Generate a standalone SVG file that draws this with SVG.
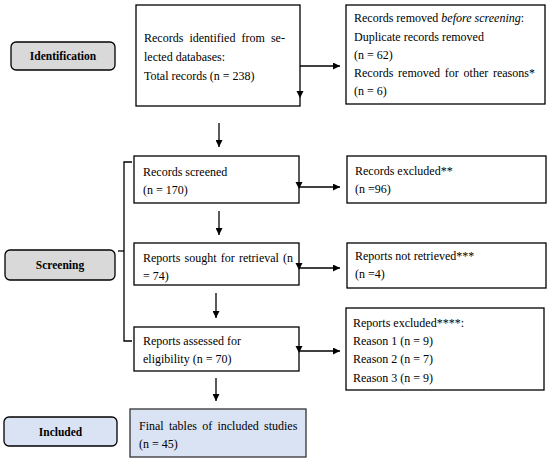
<svg xmlns="http://www.w3.org/2000/svg" width="550" height="462" viewBox="0 0 550 462">
<style>
  .box { fill: #ffffff; stroke: #000000; stroke-width: 1.3; }
  .blue { fill: #dae3f3; stroke: #333333; stroke-width: 1.3; }
  .lbl { stroke: #000000; stroke-width: 1.3; }
  .t { font-family: "Liberation Serif", "Times New Roman", serif; font-size: 12px; fill: #000000; }
  .b { font-family: "Liberation Serif", "Times New Roman", serif; font-size: 11.5px; font-weight: bold; fill: #000000; text-anchor: middle; }
  .ln { stroke: #000000; stroke-width: 1.3; fill: none; }
  .hd { fill: #000000; }
</style>
<defs>
  <marker id="ah" viewBox="0 0 10 10" refX="10" refY="5" markerWidth="7" markerHeight="7" markerUnits="userSpaceOnUse" orient="auto">
    <path d="M0,0 L10,5 L0,10 Z" class="hd"/>
  </marker>
</defs>

<g id="label-identification">
  <rect x="11" y="42" width="104" height="28" rx="5" fill="#d9d9d9" class="lbl"/>
  <text x="63" y="60" class="b">Identification</text>
</g>
<g id="label-screening">
  <rect x="5" y="250" width="110" height="30" rx="5" fill="#d9d9d9" class="lbl"/>
  <text x="60" y="269" class="b">Screening</text>
</g>
<g id="label-included">
  <rect x="4" y="417" width="113" height="29" rx="5" fill="#dae3f3" class="lbl"/>
  <text x="60.5" y="436" class="b">Included</text>
</g>

<g id="node-identified">
  <rect x="136" y="5" width="164" height="101" class="box"/>
  <text x="144" y="42" class="t" word-spacing="3.1">Records identified from se-</text>
  <text x="144" y="61" class="t">lected databases:</text>
  <text x="144" y="80" class="t">Total records (n = 238)</text>
</g>
<g id="node-removed">
  <rect x="346" y="5" width="199" height="99" class="box"/>
  <text x="354" y="22" class="t">Records removed <tspan font-style="italic">before screening</tspan>:</text>
  <text x="354" y="41" class="t">Duplicate records removed</text>
  <text x="354" y="59" class="t">(n = 62)</text>
  <text x="354" y="77" class="t" word-spacing="1.75">Records removed for other reasons*</text>
  <text x="354" y="95" class="t">(n = 6)</text>
</g>
<g id="node-screened">
  <rect x="134" y="156" width="165" height="47" class="box"/>
  <text x="143" y="176" class="t">Records screened</text>
  <text x="143" y="194" class="t">(n = 170)</text>
</g>
<g id="node-excluded">
  <rect x="347" y="156" width="199" height="47" class="box"/>
  <text x="355" y="175" class="t">Records excluded**</text>
  <text x="355" y="193" class="t">(n =96)</text>
</g>
<g id="node-sought">
  <rect x="134" y="243" width="165" height="42" class="box"/>
  <text x="143" y="262" class="t" word-spacing="1.2">Reports sought for retrieval (n</text>
  <text x="143" y="280" class="t">= 74)</text>
</g>
<g id="node-not-retrieved">
  <rect x="347" y="243" width="199" height="45" class="box"/>
  <text x="355" y="260" class="t">Reports not retrieved***</text>
  <text x="355" y="278" class="t">(n =4)</text>
</g>
<g id="node-assessed">
  <rect x="134" y="327" width="165" height="44" class="box"/>
  <text x="143" y="345" class="t">Reports assessed for</text>
  <text x="143" y="363" class="t">eligibility (n = 70)</text>
</g>
<g id="node-reports-excluded">
  <rect x="346" y="308" width="198" height="82" class="box"/>
  <text x="353" y="327" class="t">Reports excluded****:</text>
  <text x="353" y="345" class="t">Reason 1 (n = 9)</text>
  <text x="353" y="363" class="t">Reason 2 (n = 7)</text>
  <text x="353" y="382" class="t">Reason 3 (n = 9)</text>
</g>
<g id="node-final">
  <rect x="130" y="409" width="176" height="48" class="blue"/>
  <text x="139" y="430" class="t" word-spacing="2.25">Final tables of included studies</text>
  <text x="139" y="448" class="t">(n = 45)</text>
</g>

<g id="connectors">
  <line x1="300" y1="66" x2="340" y2="66" class="ln" marker-end="url(#ah)"/>
  <path d="M296.5,91 L303.5,91 L300,98 Z" class="hd"/>
  <line x1="219" y1="123" x2="219" y2="147" class="ln" marker-end="url(#ah)"/>

  <line x1="299" y1="187" x2="340" y2="187" class="ln" marker-end="url(#ah)"/>
  <path d="M295.5,182 L302.5,182 L299,189 Z" class="hd"/>
  <line x1="219" y1="211" x2="219" y2="235" class="ln" marker-end="url(#ah)"/>

  <line x1="299" y1="268" x2="340" y2="268" class="ln" marker-end="url(#ah)"/>
  <path d="M295.5,263 L302.5,263 L299,270 Z" class="hd"/>
  <line x1="216" y1="293" x2="216" y2="318" class="ln" marker-end="url(#ah)"/>

  <line x1="299" y1="351" x2="340" y2="351" class="ln" marker-end="url(#ah)"/>
  <path d="M295.5,346 L302.5,346 L299,353 Z" class="hd"/>
  <line x1="216" y1="378" x2="216" y2="401" class="ln" marker-end="url(#ah)"/>

  <path d="M132,162 L124,162 L124,341 L132,341" class="ln" stroke-width="1"/>
  <line x1="118" y1="251" x2="124" y2="251" class="ln" stroke-width="1"/>
</g>
</svg>
